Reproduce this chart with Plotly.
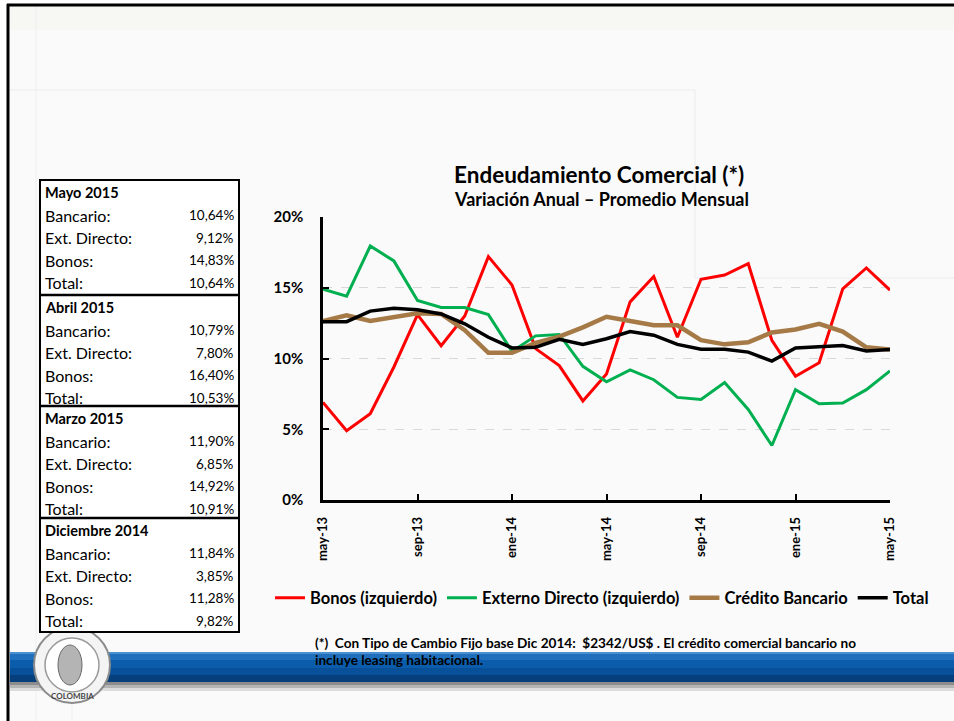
import plotly.graph_objects as go

# ---------------- data ----------------
months = ["may-13", "jun-13", "jul-13", "ago-13", "sep-13", "oct-13", "nov-13", "dic-13",
          "ene-14", "feb-14", "mar-14", "abr-14", "may-14", "jun-14", "jul-14", "ago-14",
          "sep-14", "oct-14", "nov-14", "dic-14", "ene-15", "feb-15", "mar-15", "abr-15", "may-15"]
tick_months = ["may-13", "sep-13", "ene-14", "may-14", "sep-14", "ene-15", "may-15"]

bonos = [6.9, 4.9, 6.1, 9.4, 13.1, 10.9, 13.0, 17.2, 15.2, 10.7, 9.5, 7.0, 8.9,
         14.0, 15.8, 11.5, 15.6, 15.9, 16.7, 11.28, 8.75, 9.7, 14.92, 16.40, 14.83]
externo = [14.9, 14.4, 17.95, 16.9, 14.1, 13.6, 13.6, 13.1, 10.5, 11.6, 11.7, 9.45, 8.35,
           9.2, 8.5, 7.25, 7.1, 8.3, 6.4, 3.85, 7.8, 6.8, 6.85, 7.80, 9.12]
bancario = [12.65, 13.05, 12.65, 12.9, 13.2, 13.15, 12.0, 10.4, 10.4, 11.1, 11.55, 12.2, 12.95,
            12.65, 12.35, 12.35, 11.3, 11.0, 11.15, 11.84, 12.05, 12.45, 11.90, 10.79, 10.64]
total = [12.6, 12.6, 13.35, 13.55, 13.45, 13.15, 12.45, 11.5, 10.75, 10.8, 11.35, 11.0, 11.4,
         11.9, 11.65, 11.0, 10.65, 10.65, 10.45, 9.82, 10.75, 10.8, 10.91, 10.53, 10.64]

y_ticks = [0, 5, 10, 15, 20]

table_periods = ["Mayo 2015", "Abril 2015", "Marzo 2015", "Diciembre 2014"]
table_labels = ["Bancario:", "Ext. Directo:", "Bonos:", "Total:"]
table_values = [["10,64%", "9,12%", "14,83%", "10,64%"],
                ["10,79%", "7,80%", "16,40%", "10,53%"],
                ["11,90%", "6,85%", "14,92%", "10,91%"],
                ["11,84%", "3,85%", "11,28%", "9,82%"]]

title_text = "Endeudamiento Comercial (*)"
subtitle_text = "Variación Anual – Promedio Mensual"
note_lines = ["(*)  Con Tipo de Cambio Fijo base Dic 2014:  $2342/US$ . El crédito comercial bancario no",
              "incluye leasing habitacional."]

# ---------------- layout geometry (pixels) ----------------
W, H = 954, 721
L, R, T, B = 323, 890, 217, 500
PW, PH = R - L, B - T
FONT = "Lato"


def px(x):
    return (x - L) / PW


def py(y):
    return (B - y) / PH


fig = go.Figure()

series = [("Bonos (izquierdo)", bonos, "#ff0000", 3),
          ("Externo Directo (izquierdo)", externo, "#00b050", 3),
          ("Crédito Bancario", bancario, "#a57a46", 4.5),
          ("Total", total, "#000000", 3.5)]
for name, vals, col, w in series:
    fig.add_trace(go.Scatter(x=months, y=vals, mode="lines", name=name,
                             line=dict(color=col, width=w), hoverinfo="skip"))

shapes = []
annotations = []


def rect(x0, y0, x1, y1, fill, line_color=None, lw=0, layer="below"):
    shapes.append(dict(type="rect", xref="paper", yref="paper",
                       x0=px(x0), x1=px(x1), y0=py(y0), y1=py(y1),
                       fillcolor=fill, line=dict(color=line_color or fill, width=lw),
                       layer=layer))


def hline(x0, x1, y, color, w, layer="below"):
    shapes.append(dict(type="line", xref="paper", yref="paper",
                       x0=px(x0), x1=px(x1), y0=py(y), y1=py(y),
                       line=dict(color=color, width=w), layer=layer))


def vline(x, y0, y1, color, w, layer="below"):
    shapes.append(dict(type="line", xref="paper", yref="paper",
                       x0=px(x), x1=px(x), y0=py(y0), y1=py(y1),
                       line=dict(color=color, width=w), layer=layer))


def text(x, y, s, size, bold=False, xanchor="left", color="#000000", yanchor="middle"):
    annotations.append(dict(xref="paper", yref="paper", x=px(x), y=py(y),
                            text=("<b>%s</b>" % s) if bold else s, showarrow=False,
                            xanchor=xanchor, yanchor=yanchor,
                            font=dict(family=FONT, size=size, color=color)))


# white outside of slide frame
rect(0, 0, 954, 4, "#ffffff")
rect(0, 0, 7, 721, "#ffffff")
# slide background decorations
rect(9, 6, 954, 30, "#f7f7f3")
hline(9, 695, 90, "#ececec", 1)
vline(695, 90, 278, "#ececec", 1)
hline(695, 954, 278, "#ececec", 1)
vline(36, 6, 721, "#efefef", 1)
vline(72, 200, 721, "#efefef", 1)
# slide frame
hline(7, 954, 5, "#000000", 3, layer="above")
vline(8, 4, 721, "#000000", 3, layer="above")

# blue band with shadow
band = [(652, 654, "#4a8fd0"), (654, 660, "#1f6fbd"), (660, 668, "#0b5dab"),
        (668, 675, "#09509a"), (675, 682, "#073f7d"), (682, 685, "#8d8d8d"),
        (685, 688, "#b5b5b5"), (688, 691, "#dcdcdc")]
for y0, y1, c in band:
    rect(10, y0, 954, y1, c)

# logo (coin)
cx, cy, r = 72, 665, 38
shapes.append(dict(type="circle", xref="paper", yref="paper",
                   x0=px(cx - r), x1=px(cx + r), y0=py(cy + r), y1=py(cy - r),
                   fillcolor="#f4f4f4", line=dict(color="#8a8a8a", width=2), layer="below"))
shapes.append(dict(type="circle", xref="paper", yref="paper",
                   x0=px(cx - 27), x1=px(cx + 27), y0=py(cy + 27), y1=py(cy - 27),
                   fillcolor="#ffffff", line=dict(color="#9a9a9a", width=1.5), layer="below"))
shapes.append(dict(type="circle", xref="paper", yref="paper",
                   x0=px(cx - 14), x1=px(cx + 10), y0=py(cy + 20), y1=py(cy - 20),
                   fillcolor="#b4b4b4", line=dict(color="#6a6a6a", width=1), layer="below"))
text(cx, cy + 31, "COLOMBIA", 8, bold=True, xanchor="center", color="#444444")

# table
TX0, TX1 = 40, 239
sec_tops = [180, 295, 406, 518]
TY1 = 632
for i, top in enumerate(sec_tops):
    rect(TX0 + 1, top + 1, TX1 - 1, (sec_tops[i + 1] if i < 3 else TY1) - 1, "#ffffff")
rect(TX0, 180, TX1, TY1, "rgba(255,255,255,0)", "#000000", 2, layer="above")
for yt in sec_tops[1:]:
    hline(TX0, TX1, yt, "#000000", 2.5, layer="above")
for i, top in enumerate(sec_tops):
    text(TX0 + 3, top + 12, table_periods[i], 14.5, bold=True)
    for j, lab in enumerate(table_labels):
        yy = top + 35 + j * 22.6
        text(TX0 + 3, yy, lab, 16)
        text(TX1 - 3, yy, table_values[i][j], 13.5, xanchor="right")

# titles
text(599, 174, title_text, 22.5, bold=True, xanchor="center")
text(601, 199, subtitle_text, 18, bold=True, xanchor="center")

# footnote
text(313, 643, note_lines[0], 13.6, bold=True)
text(313, 660, note_lines[1], 13.6, bold=True)

fig.update_layout(
    width=W, height=H,
    margin=dict(l=L, r=W - R, t=T, b=H - B, pad=0),
    paper_bgcolor="#fafafa", plot_bgcolor="rgba(0,0,0,0)",
    showlegend=True,
    legend=dict(orientation="h", x=px(270), y=py(598), xanchor="left", yanchor="middle",
                font=dict(family=FONT, size=16.5, color="#000000", weight="bold"),
                bgcolor="rgba(0,0,0,0)", itemwidth=30, tracegroupgap=0),
    shapes=shapes, annotations=annotations,
    font=dict(family=FONT, color="#000000"),
)
fig.update_xaxes(type="category", range=[0, len(months) - 1],
                 tickmode="array", tickvals=tick_months, ticktext=tick_months,
                 tickangle=-90, tickfont=dict(family=FONT, size=13, color="#000000", weight="bold"),
                 showline=True, linecolor="#000000", linewidth=2.5,
                 ticks="inside", ticklen=6, tickwidth=2, tickcolor="#000000",
                 showgrid=False, zeroline=False, ticklabelstandoff=9)
fig.update_yaxes(range=[0, 20], tickmode="array", tickvals=y_ticks,
                 ticktext=["%d%%" % v for v in y_ticks],
                 tickfont=dict(family=FONT, size=15, color="#000000", weight="bold"),
                 showline=True, linecolor="#000000", linewidth=2.5,
                 ticks="inside", ticklen=6, tickwidth=2, tickcolor="#000000",
                 showgrid=True, gridcolor="#d9d9d9", griddash="dash", gridwidth=1,
                 zeroline=False, ticklabelstandoff=14)

fig.write_html("out.html", config={"displayModeBar": False},
               post_script="document.body.style.margin='0';document.body.style.overflow='hidden';")
